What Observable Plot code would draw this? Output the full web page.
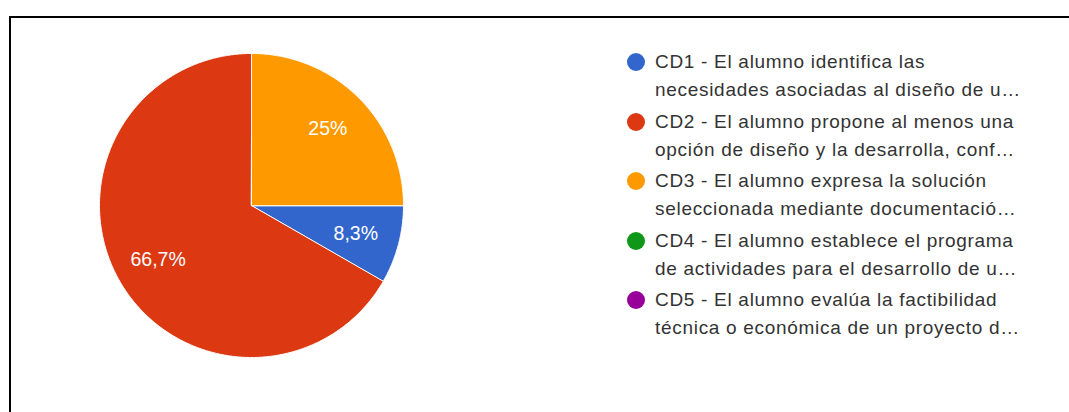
<!DOCTYPE html>
<html><head><meta charset="utf-8">
<script src="https://cdn.jsdelivr.net/npm/d3@7"></script>
<script src="https://cdn.jsdelivr.net/npm/@observablehq/plot@0.6"></script>
<style>
body{margin:0;background:#fff;}
#wrap{position:relative;width:1069px;height:412px;overflow:hidden;font-family:"Liberation Sans",Arial,sans-serif;}
#frame{position:absolute;left:9px;top:16px;right:-4px;bottom:-4px;border-top:2px solid #000;border-left:2px solid #000;}
#chart{position:absolute;left:0;top:0;}
#legend{position:absolute;left:627px;top:48px;}
.item{display:flex;align-items:flex-start;height:59.5px;}
.dot{width:18px;height:18px;border-radius:50%;margin-top:5px;margin-right:10px;flex:none;}
.txt{font-size:19px;letter-spacing:0.7px;line-height:28px;color:#333;white-space:nowrap;}
</style>
</head><body>
<div id="wrap"><div id="chart"></div><div id="frame"></div><div id="legend"></div></div>
<script>
// ---- data ----
const ids = ["CD1", "CD2", "CD3", "CD4", "CD5"];
const legendLine1 = [
  "CD1 - El alumno identifica las",
  "CD2 - El alumno propone al menos una",
  "CD3 - El alumno expresa la solución",
  "CD4 - El alumno establece el programa",
  "CD5 - El alumno evalúa la factibilidad"
];
const legendLine2 = [
  "necesidades asociadas al diseño de u…",
  "opción de diseño y la desarrolla, conf…",
  "seleccionada mediante documentació…",
  "de actividades para el desarrollo de u…",
  "técnica o económica de un proyecto d…"
];
const values = [8.3, 66.7, 25, 0, 0];
const sliceLabels = ["8,3%", "66,7%", "25%", "", ""];
const colors = ["#3366cc", "#dc3912", "#ff9900", "#109618", "#990099"];

// ---- layout ----
const W = 1069, H = 412, R = 152, cx = 251, cy = 205;

const slices = ids.map((id, i) => ({id, value: values[i], label: sliceLabels[i]}));
const arcs = d3.pie().sort(null).value(d => d.value)
  .startAngle(Math.PI / 2).endAngle(Math.PI / 2 + 2 * Math.PI)(slices)
  .filter(a => a.value > 0);

const outline = [];
for (const a of arcs) {
  outline.push({id: a.data.id, x: 0, y: 0});
  const n = Math.max(2, Math.ceil((a.endAngle - a.startAngle) / (Math.PI / 360)));
  for (let k = 0; k <= n; k++) {
    const t = a.startAngle + (a.endAngle - a.startAngle) * k / n;
    outline.push({id: a.data.id, x: Math.sin(t), y: Math.cos(t)});
  }
}
const labelPts = arcs.map(a => {
  const m = (a.startAngle + a.endAngle) / 2;
  return {label: a.data.label, x: 0.71 * Math.sin(m), y: 0.71 * Math.cos(m)};
});

const plot = Plot.plot({
  width: W, height: H,
  marginTop: 0, marginRight: 0, marginBottom: 0, marginLeft: 0,
  x: {domain: [-cx / R, (W - cx) / R], range: [0, W], axis: null},
  y: {domain: [-(H - cy) / R, cy / R], range: [H, 0], axis: null},
  color: {type: "ordinal", domain: ids, range: colors},
  style: {fontFamily: '"Liberation Sans", Arial, sans-serif', background: "transparent"},
  marks: [
    Plot.line(outline, {x: "x", y: "y", z: "id", fill: "id", stroke: "white", strokeWidth: 1, curve: "linear-closed"}),
    Plot.text(labelPts, {x: "x", y: "y", text: "label", fill: "white", fontSize: 19.5})
  ]
});
document.getElementById("chart").appendChild(plot);

const legend = document.getElementById("legend");
ids.forEach((id, i) => {
  const item = document.createElement("div");
  item.className = "item";
  item.innerHTML = `<div class="dot" style="background:${colors[i]}"></div><div class="txt">${legendLine1[i]}<br>${legendLine2[i]}</div>`;
  legend.appendChild(item);
});
</script>
</body></html>
